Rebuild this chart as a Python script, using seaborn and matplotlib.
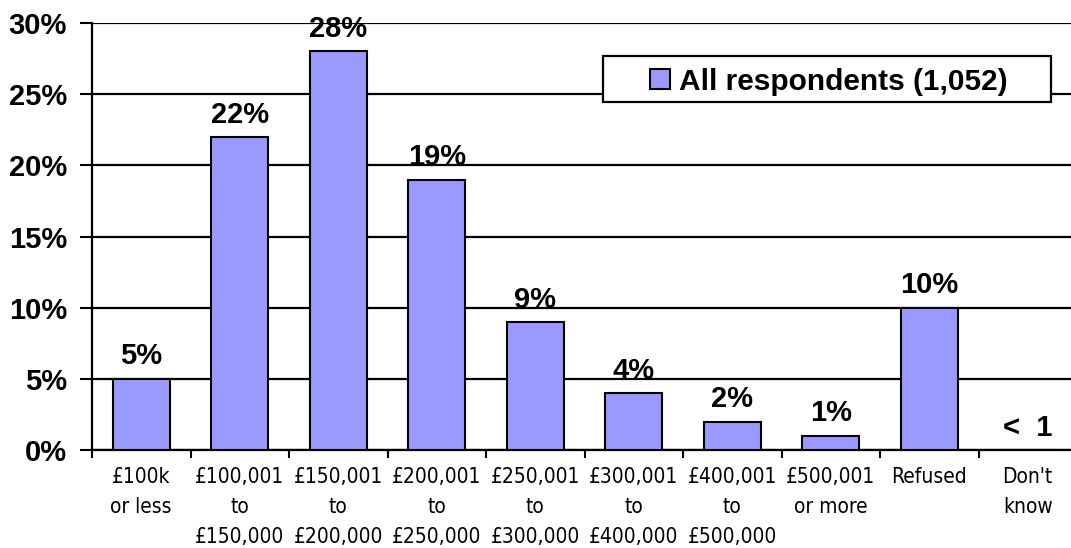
import matplotlib
matplotlib.use("Agg")
import matplotlib.pyplot as plt
from matplotlib import font_manager
from matplotlib.patches import Rectangle
import seaborn as sns
import pandas as pd

categories = ["£100k\nor less", "£100,001\nto\n£150,000", "£150,001\nto\n£200,000",
              "£200,001\nto\n£250,000", "£250,001\nto\n£300,000", "£300,001\nto\n£400,000",
              "£400,001\nto\n£500,000", "£500,001\nor more", "Refused", "Don't\nknow"]
values = [5, 22, 28, 19, 9, 4, 2, 1, 10, 0]
value_labels = ["5%", "22%", "28%", "19%", "9%", "4%", "2%", "1%", "10%", "<  1"]
series_name = "All respondents (1,052)"
y_ticks = [0, 5, 10, 15, 20, 25, 30]
bar_color = "#9999FF"

sns.set_theme(style="white")
plt.rcParams["font.family"] = ["Liberation Sans", "DejaVu Sans"]
plt.rcParams["text.color"] = "black"
plt.rcParams["xtick.color"] = "black"
plt.rcParams["ytick.color"] = "black"

# narrow face for the category labels
installed = {(f.name, f.stretch) for f in font_manager.fontManager.ttflist}
if any(n == "Liberation Sans Narrow" for n, _ in installed):
    narrow = font_manager.FontProperties(family="Liberation Sans Narrow", size=16.5)
else:
    narrow = font_manager.FontProperties(family="DejaVu Sans", stretch="condensed", size=15)

W, H = 1071, 548
fig = plt.figure(figsize=(W / 100, H / 100), dpi=100)
ax = fig.add_axes([92 / W, 98 / H, 985 / W, 427 / H])

df = pd.DataFrame({"cat": categories, "val": values})
sns.barplot(data=df, x="cat", y="val", color=bar_color, edgecolor="black",
            linewidth=1.5, width=0.58, saturation=1, ax=ax, zorder=3)

ax.set_xlim(-0.5, len(categories) - 0.5)
ax.set_ylim(0, 30)
ax.set_yticks(y_ticks)
ax.set_yticklabels([f"{t}%" for t in y_ticks], fontsize=21, fontweight="bold")
ax.yaxis.grid(True, color="black", linewidth=1.6, zorder=0)
ax.set_axisbelow(True)

ax.set_xticks(range(len(categories)))
ax.set_xticklabels(categories, fontproperties=narrow, linespacing=1.65, va="top")
ax.set_xticks([i - 0.5 for i in range(len(categories) + 1)], minor=True)
ax.tick_params(axis="x", which="major", length=0, pad=12)
ax.tick_params(axis="x", which="minor", length=6, width=1.5, color="black", direction="out", bottom=True)
ax.tick_params(axis="y", which="major", length=9, width=1.5, color="black", direction="out", left=True, pad=9)
ax.set_xlabel("")
ax.set_ylabel("")

for side in ("top", "right"):
    ax.spines[side].set_visible(False)
for side in ("left", "bottom"):
    ax.spines[side].set_color("black")
    ax.spines[side].set_linewidth(1.6)

for i, (v, lab) in enumerate(zip(values, value_labels)):
    ax.annotate(lab, (i, v), xytext=(0, 6), textcoords="offset points",
                ha="center", va="bottom", fontsize=21, fontweight="bold", zorder=5)

# legend box drawn in figure pixel units
def px(x, y):
    return x / W, 1 - y / H

bx0, by0 = px(603, 102)
bx1, by1 = px(1051, 56)
fig.patches.append(Rectangle((bx0, by0), bx1 - bx0, by1 - by0, transform=fig.transFigure,
                             facecolor="white", edgecolor="black", linewidth=1.6, zorder=10))
sx0, sy0 = px(650, 89)
sx1, sy1 = px(670, 69)
fig.patches.append(Rectangle((sx0, sy0), sx1 - sx0, sy1 - sy0, transform=fig.transFigure,
                             facecolor=bar_color, edgecolor="black", linewidth=1.5, zorder=11))
tx, ty = px(679, 79)
fig.text(tx, ty, series_name, ha="left", va="center_baseline", fontsize=21.5,
         fontweight="bold", zorder=12)

fig.savefig("out.png", dpi=100)
